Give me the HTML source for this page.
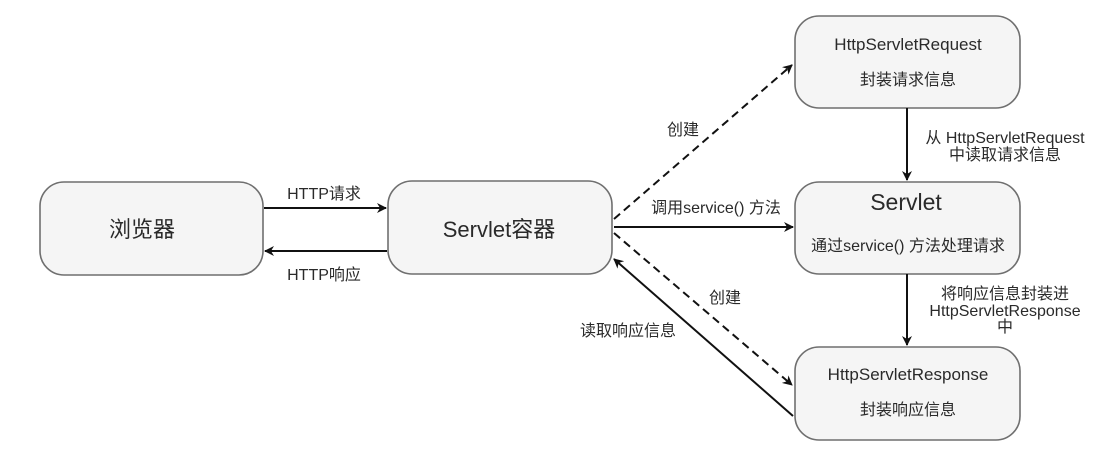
<!DOCTYPE html>
<html><head><meta charset="utf-8"><style>
html,body{margin:0;padding:0;background:#fff}
svg{display:block}
text{font-family:"Liberation Sans","Noto Sans CJK SC",sans-serif;fill:#2a2a2a;text-anchor:middle}
</style></head><body>
<svg width="1118" height="457" viewBox="0 0 1118 457" xmlns="http://www.w3.org/2000/svg">
<defs>
<marker id="a" viewBox="0 0 10 10" refX="9" refY="5" markerWidth="10" markerHeight="10" orient="auto" markerUnits="userSpaceOnUse">
<path d="M0,0 L10,5 L0,10 L3,5 z" fill="#111"/></marker>
</defs>
<g fill="#f5f5f5" stroke="#6f6f6f" stroke-width="1.6">
<rect x="40" y="182" width="223" height="93" rx="24"/>
<rect x="388" y="181" width="224" height="93" rx="24"/>
<rect x="795" y="16" width="225" height="92" rx="24"/>
<rect x="795" y="182" width="225" height="92" rx="24"/>
<rect x="795" y="347" width="225" height="93" rx="24"/>
</g>
<g stroke="#111" stroke-width="2" fill="none">
<line x1="264" y1="208" x2="386" y2="208" marker-end="url(#a)"/>
<line x1="387" y1="251" x2="265" y2="251" marker-end="url(#a)"/>
<line x1="614" y1="227" x2="793" y2="227" marker-end="url(#a)"/>
<line x1="907" y1="108" x2="907" y2="180" marker-end="url(#a)"/>
<line x1="907" y1="274" x2="907" y2="345" marker-end="url(#a)"/>
<line x1="793" y1="416" x2="614" y2="259" marker-end="url(#a)"/>
<line x1="614" y1="219" x2="792" y2="65" stroke-dasharray="8,5" marker-end="url(#a)"/>
<line x1="614" y1="233" x2="792" y2="385" stroke-dasharray="8,5" marker-end="url(#a)"/>
</g>
<text x="142" y="237" font-size="22">浏览器</text>
<text x="499" y="237" font-size="22">Servlet容器</text>
<text x="908" y="50" font-size="17">HttpServletRequest</text>
<text x="908" y="85" font-size="16">封装请求信息</text>
<text x="906" y="210" font-size="23">Servlet</text>
<text x="908" y="251" font-size="16">通过service() 方法处理请求</text>
<text x="908" y="380" font-size="17">HttpServletResponse</text>
<text x="908" y="415" font-size="16">封装响应信息</text>
<text x="324" y="199" font-size="16">HTTP请求</text>
<text x="324" y="280" font-size="16">HTTP响应</text>
<text x="683" y="135" font-size="16">创建</text>
<text x="716" y="213" font-size="16">调用service() 方法</text>
<text x="725" y="303" font-size="16">创建</text>
<text x="628" y="336" font-size="16">读取响应信息</text>
<text x="1005" y="143" font-size="16">从 HttpServletRequest</text>
<text x="1005" y="160" font-size="16">中读取请求信息</text>
<text x="1005" y="299" font-size="16">将响应信息封装进</text>
<text x="1005" y="316" font-size="16">HttpServletResponse</text>
<text x="1005" y="332" font-size="16">中</text>
</svg>
</body></html>
